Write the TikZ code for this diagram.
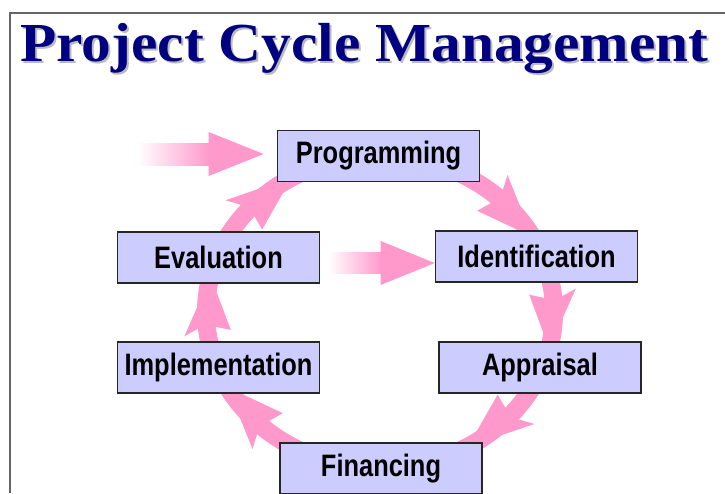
\documentclass[tikz,border=0pt]{standalone}
\usepackage{fontspec}
\setmainfont{Liberation Serif}
\newfontfamily\titlefont{Liberation Serif}[FakeStretch=1.08]
\newfontfamily\boxfont{Liberation Sans}[FakeStretch=0.82]
\usetikzlibrary{calc}
\definecolor{navyc}{HTML}{000080}
\definecolor{arrowpink}{HTML}{FF99CC}
\definecolor{boxfill}{HTML}{CCCCFF}
\definecolor{framegray}{HTML}{666666}
\definecolor{shadowgray}{HTML}{BBBBBB}
\tikzset{
  stagebox/.style={draw=black!85, line width=1.6pt, fill=boxfill,
    minimum width=202pt, minimum height=51pt, inner sep=0pt,
    font=\boxfont\bfseries\fontsize{31}{31}\selectfont},
  band/.style={draw=arrowpink, line width=18pt},
  framel/.style={draw=framegray, line width=1.3pt},
  titletext/.style={anchor=base west, inner sep=0pt,
    font=\titlefont\bfseries\fontsize{55}{55}\selectfont},
}
% #1 = angle of the head's base, #2 = angle of its tip (on the ring)
\newcommand\ringhead[2]{%
  \fill[arrowpink] ({380+174*cos(#2)},{312+156*sin(#2)})
    -- ({380+197.5*cos(#1)},{312+179.5*sin(#1)})
    -- ({380+183*cos(#1+2)},{312+165*sin(#1+2)})
    -- ({380+165*cos(#1+2)},{312+147*sin(#1+2)})
    -- ({380+150.5*cos(#1)},{312+132.5*sin(#1)}) -- cycle;}
\newcommand\shadowed[1]{\makebox[0pt][l]{\hspace{2pt}\raisebox{-2pt}{\textcolor{shadowgray}{#1}}}#1}
\begin{document}
\begin{tikzpicture}[x=1pt,y=-1pt]
\useasboundingbox (0,0) rectangle (725,493);
\fill[white] (0,0) rectangle (725,493);
% frame
\draw[framel] (10,493) -- (10,13) -- (725,13);
% title
\node[titletext, text=navyc] (title) at (20,61) {\shadowed{Project Cycle Management}};
% ring
\coordinate (ring) at (380,312);
\coordinate (prog-r) at ({380+174*cos(270)},{312+156*sin(270)});
\coordinate (ident-r) at ({380+174*cos(339)},{312+156*sin(339)});
\coordinate (appr-r) at ({380+174*cos(21)},{312+156*sin(21)});
\coordinate (fin-r) at ({380+174*cos(90)},{312+156*sin(90)});
\coordinate (impl-r) at ({380+174*cos(159)},{312+156*sin(159)});
\coordinate (eval-r) at ({380+174*cos(201)},{312+156*sin(201)});
\draw[band] (prog-r) arc[start angle=270, end angle=339, x radius=174, y radius=156];
\draw[band] (ident-r) arc[start angle=-21, end angle=21, x radius=174, y radius=156];
\draw[band] (appr-r) arc[start angle=21, end angle=90, x radius=174, y radius=156];
\draw[band] (fin-r) arc[start angle=90, end angle=159, x radius=174, y radius=156];
\draw[band] (impl-r) arc[start angle=159, end angle=201, x radius=174, y radius=156];
\draw[band] (eval-r) arc[start angle=201, end angle=270, x radius=174, y radius=156];
\ringhead{310.2}{331.2}
\ringhead{-7.5}{13.5}
\ringhead{38.6}{59.6}
\ringhead{130.2}{151.2}
\ringhead{172.2}{193.2}
\ringhead{218.5}{239.5}
% boxes
\node[stagebox] (prog) at (378.5,156) {Programming};
\node[stagebox] (ident) at (536.5,256.5) {Identification};
\node[stagebox] (appr) at (540,367.5) {Appraisal};
\node[stagebox] (fin) at (381,468.5) {Financing};
\node[stagebox] (impl) at (218.5,367.5) {Implementation};
\node[stagebox] (eval) at (218.5,257.5) {Evaluation};
% straight arrows
\coordinate (in-start) at (138,154);
\coordinate (in-end) at ($(prog.west)+(-13,-2)$);
\shade[left color=white, right color=arrowpink] ($(in-start)+(0,-11)$) rectangle ($(in-end)+(-54,11)$);
\fill[arrowpink] ($(in-end)+(-55,-22)$) -- (in-end) -- ($(in-end)+(-55,22)$) -- cycle;
\coordinate (fb-start) at ($(eval.east)+(8,5)$);
\coordinate (fb-end) at ($(ident.west)+(0,6.5)$);
\shade[left color=white, right color=arrowpink] ($(fb-start)+(0,-10)$) rectangle ($(fb-end)+(-53,10)$);
\fill[arrowpink] ($(fb-end)+(-54,-22)$) -- (fb-end) -- ($(fb-end)+(-54,22)$) -- cycle;
\end{tikzpicture}
\end{document}
